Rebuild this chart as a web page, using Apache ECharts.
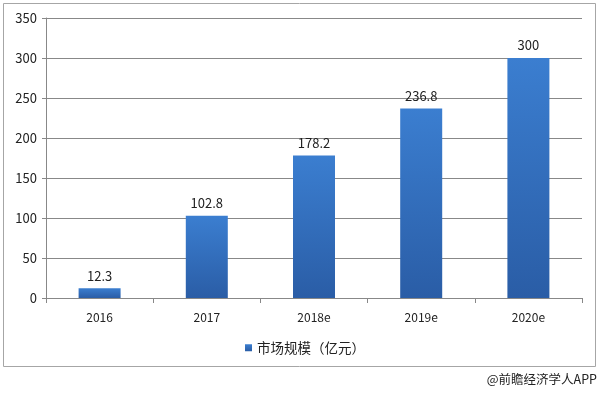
<!DOCTYPE html>
<html><head><meta charset="utf-8">
<script src="https://cdn.jsdelivr.net/npm/echarts@6/dist/echarts.min.js"></script>
<style>html,body{margin:0;padding:0;background:#fff}#c{width:600px;height:394px}</style>
</head><body><div id="c"></div>
<script>
const categories = ['2016', '2017', '2018e', '2019e', '2020e'];
const values = [12.3, 102.8, 178.2, 236.8, 300];
const seriesName = '市场规模（亿元）';
const yTicks = [0, 50, 100, 150, 200, 250, 300, 350];
const footer = '@前瞻经济学人APP';

const font = '"Microsoft YaHei","Noto Sans CJK SC","Liberation Sans",sans-serif';
const chart = echarts.init(document.getElementById('c'));
chart.setOption({
  animation: false,
  backgroundColor: '#fff',
  graphic: [
    { type: 'rect', shape: { x: 3.5, y: 3.5, width: 592, height: 363 }, style: { fill: 'none', stroke: '#a6a6a6', lineWidth: 1 } },
    { type: 'text', right: 3, top: 373, style: { text: footer, font: '12.5px ' + font, fill: '#222' } }
  ],
  grid: { left: 46, right: 18, top: 18, bottom: 96, containLabel: false },
  legend: {
    data: [seriesName], left: 240, top: 336, itemWidth: 7, itemHeight: 7, itemGap: 3,
    icon: 'rect',
    textStyle: { fontSize: 13.5, color: '#222', fontFamily: font }
  },
  xAxis: {
    type: 'category', data: categories,
    axisLine: { lineStyle: { color: '#888' } },
    axisTick: { show: true, lineStyle: { color: '#888' }, length: 5 },
    axisLabel: { fontSize: 12, color: '#222', margin: 13, fontFamily: font }
  },
  yAxis: {
    type: 'value', min: yTicks[0], max: yTicks[yTicks.length - 1], interval: 50,
    axisLine: { show: true, lineStyle: { color: '#888' } },
    axisTick: { show: true, lineStyle: { color: '#888' }, length: 4 },
    axisLabel: { fontSize: 13, color: '#222', margin: 9, fontFamily: font },
    splitLine: { lineStyle: { color: '#888', width: 1 } }
  },
  series: [{
    name: seriesName, type: 'bar', data: values, barWidth: 42,
    itemStyle: {
      color: new echarts.graphic.LinearGradient(0, 0, 0, 1, [
        { offset: 0, color: '#3b7ed0' }, { offset: 1, color: '#2a5da6' }
      ])
    },
    label: { show: true, position: 'top', distance: 6, fontSize: 13, color: '#222', fontFamily: font }
  }]
});
</script></body></html>
